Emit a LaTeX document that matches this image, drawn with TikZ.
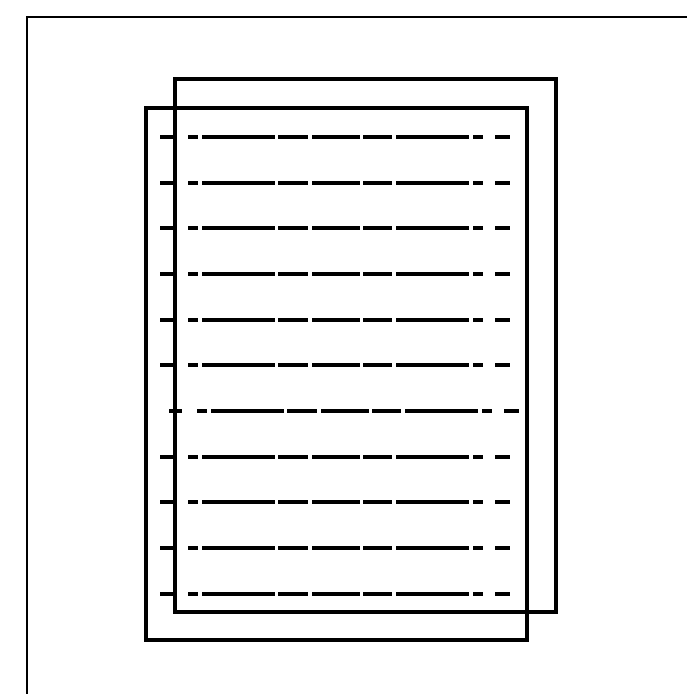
\documentclass[tikz,border=0pt]{standalone}
\begin{document}
\begin{tikzpicture}[x=1pt,y=-1pt,
  frame/.style={line width=2.8pt},
  sheet/.style={line width=3.2pt},
  seg/.style={line width=3.5pt}]
\useasboundingbox (0,0) rectangle (687,694);
\fill[white] (0,0) rectangle (687,694);
% outer frame (runs off right and bottom)
\draw[frame] (27,700) -- (27,17) -- (700,17);
% back sheet
\draw[sheet] (175,79) rectangle (556,612);
% front sheet
\draw[sheet] (146,108) rectangle (527,640);
% dash-dot rows
\foreach \y/\s in {137/0,183/0,228/0,274/0,320/0,365/0,411/9,457/0,502/0,548/0,594/0}{
  \foreach \a/\b in {160/173,188/198,202/275,278/308,312/360,363/392,396/469,473/483,495/510}{
    \draw[seg] ({\a+\s},\y) -- ({\b+\s},\y);
  }
}
\end{tikzpicture}
\end{document}
